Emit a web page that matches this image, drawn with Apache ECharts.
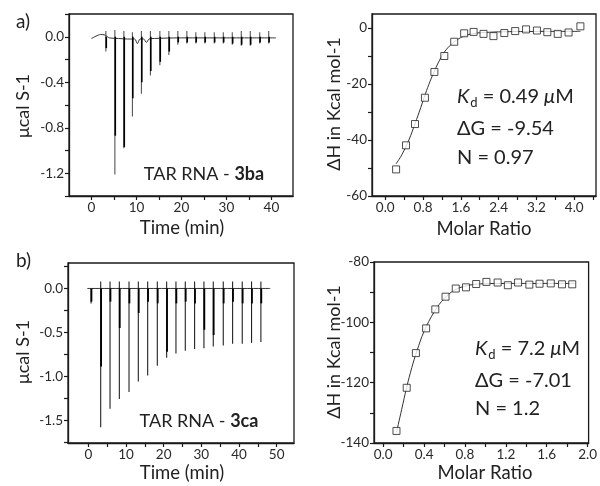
<!DOCTYPE html>
<html><head><meta charset="utf-8">
<script src="https://cdn.jsdelivr.net/npm/echarts@6/dist/echarts.min.js"></script>
<style>html,body{margin:0;padding:0;background:#fff}#c{width:600px;height:486px}</style>
</head><body><div id="c"></div>
<script>
// ---------- Panel a) raw thermogram, TAR RNA - 3ba ----------
const aTimes = [3.2, 5.2, 7.2, 9.1, 11.1, 13.1, 15.2, 17.2, 19.2, 21.2, 23.2, 25.2, 27.3, 29.3, 31.3, 33.3, 35.3, 37.4, 39.4];
const aUp    = [0.05, 0.06, 0.05, 0.04, 0.05, 0.05, 0.05, 0.05, 0.05, 0.05, 0.04, 0.04, 0.04, 0.04, 0.04, 0.05, 0.05, 0.04, 0.05];
const aPeak  = [-0.13, -1.21, -0.98, -0.70, -0.50, -0.34, -0.25, -0.16, -0.07, -0.06, -0.06, -0.06, -0.06, -0.06, -0.07, -0.08, -0.08, -0.06, -0.06];
const aThick = [-0.10, -0.87, -0.97, -0.54, -0.40, -0.30, -0.22, -0.13, -0.05, -0.05, -0.05, -0.05, -0.05, -0.05, -0.06, -0.07, -0.07, -0.05, -0.05];
const aBaseT = [0, 1, 2, 3, 4, 6, 8, 9.6, 10.2, 10.8, 11.6, 12.2, 12.8, 14, 20, 30, 41];
const aBaseV = [-0.015, 0.005, 0.02, 0.015, -0.01, -0.015, -0.02, -0.02, -0.06, -0.02, -0.02, -0.05, -0.02, -0.015, -0.01, -0.01, -0.01];
const aXLabels = [0, 10, 20, 30, 40];
const aXTicks  = [0, 5, 10, 15, 20, 25, 30, 35, 40];
const aYLabels = [0, -0.4, -0.8, -1.2];
const aYTicks  = [0.2, 0, -0.2, -0.4, -0.6, -0.8, -1.0, -1.2, -1.4];

// ---------- Panel b) binding isotherm, 3ba ----------
const bRatio = [0.23, 0.44, 0.63, 0.84, 1.04, 1.25, 1.46, 1.67, 1.87, 2.08, 2.29, 2.52, 2.75, 2.98, 3.21, 3.43, 3.65, 3.88, 4.13];
const bDH    = [-50.5, -41.9, -34.3, -24.9, -15.7, -10.0, -4.9, -1.9, -1.4, -2.1, -2.9, -1.8, -1.1, -0.5, -0.9, -1.5, -2.1, -1.6, 0.6];
const bFitX  = [0.23, 0.35, 0.5, 0.63, 0.75, 0.85, 0.95, 1.05, 1.15, 1.25, 1.4, 1.55, 1.7, 1.9, 2.1, 2.5, 3.0, 3.5, 4.13];
const bFitY  = [-48.5, -45.3, -40.0, -34.2, -28.5, -23.5, -19.0, -15.0, -11.5, -8.6, -5.8, -3.9, -2.7, -1.9, -1.6, -1.35, -1.25, -1.2, -1.2];
const bXLabels = [0, 0.8, 1.6, 2.4, 3.2, 4.0];
const bXTicks  = [0, 0.4, 0.8, 1.2, 1.6, 2.0, 2.4, 2.8, 3.2, 3.6, 4.0, 4.4];
const bYLabels = [0, -20, -40, -60];
const bYTicks  = [0, -10, -20, -30, -40, -50, -60];

// ---------- Panel c) raw thermogram, TAR RNA - 3ca ----------
const cTimes = [0.72, 3.28, 5.76, 8.23, 10.8, 13.27, 15.75, 18.31, 20.79, 23.26, 25.74, 28.21, 30.69, 33.17, 35.82, 38.3, 40.86, 43.33, 45.81];
const cUp    = [0.0, 0.08, 0.08, 0.08, 0.08, 0.08, 0.08, 0.08, 0.08, 0.08, 0.08, 0.08, 0.08, 0.08, 0.08, 0.08, 0.08, 0.08, 0.08];
const cPeak  = [-0.17, -1.58, -1.37, -1.26, -1.18, -1.06, -0.99, -0.88, -0.79, -0.74, -0.71, -0.69, -0.68, -0.66, -0.65, -0.63, -0.63, -0.62, -0.61];
const cThick = [-0.15, -0.89, -0.15, -0.45, -0.17, -0.28, -0.15, -0.17, -0.72, -0.17, -0.15, -0.17, -0.47, -0.53, -0.17, -0.15, -0.17, -0.17, -0.17];
const cBaseT = [-0.3, 48.3];
const cBaseV = [0.0, 0.0];
const cXLabels = [0, 10, 20, 30, 40, 50];
const cXTicks  = [0, 5, 10, 15, 20, 25, 30, 35, 40, 45, 50];
const cYLabels = [0, -0.5, -1.0, -1.5];
const cYTicks  = [0.25, 0, -0.25, -0.5, -0.75, -1.0, -1.25, -1.5, -1.75];

// ---------- Panel d) binding isotherm, 3ca ----------
const dRatio = [0.13, 0.23, 0.32, 0.42, 0.51, 0.61, 0.71, 0.81, 0.91, 1.01, 1.12, 1.22, 1.32, 1.43, 1.53, 1.64, 1.75, 1.85];
const dDH    = [-136.0, -121.7, -110.2, -102.0, -95.7, -91.5, -88.8, -88.4, -87.3, -86.6, -86.8, -87.7, -86.8, -87.5, -87.2, -87.1, -87.4, -87.4];
const dFitX  = [0.13, 0.18, 0.23, 0.28, 0.33, 0.40, 0.50, 0.60, 0.70, 0.80, 0.90, 1.0, 1.2, 1.5, 1.88];
const dFitY  = [-136.5, -129.0, -121.5, -115.0, -109.5, -103.0, -96.5, -92.0, -89.3, -88.0, -87.4, -87.2, -87.1, -87.1, -87.1];
const dXLabels = [0, 0.4, 0.8, 1.2, 1.6, 2.0];
const dXTicks  = [0, 0.2, 0.4, 0.6, 0.8, 1.0, 1.2, 1.4, 1.6, 1.8, 2.0];
const dYLabels = [-80, -100, -120, -140];
const dYTicks  = [-80, -90, -100, -110, -120, -130, -140];

const FONT = 'Lato';
const INK = '#1a1a1a';

function axis(gi, min, max, labels, ticks, fmt) {
  return {
    type: 'value', gridIndex: gi, min: min, max: max,
    splitLine: {show: false},
    axisLine: {show: true, onZero: false, lineStyle: {color: INK, width: 1.3}},
    axisTick: {show: true, inside: false, length: 4, customValues: ticks, lineStyle: {color: INK, width: 1.2}},
    axisLabel: {customValues: labels, formatter: fmt, color: '#2a2a2a', fontSize: 13.5, fontFamily: FONT, margin: 5}
  };
}
const f1 = v => (Math.abs(v) < 1e-9 ? 0 : v).toFixed(1);
const f0 = v => String(Math.round(v));

function spikes(gi, times, up, peak, thick, thinColor, thickW) {
  return {
    type: 'custom', xAxisIndex: gi, yAxisIndex: gi, clip: true, silent: true,
    data: times.map((t, i) => [t, up[i], peak[i], thick[i]]),
    encode: {x: 0, y: [1, 2, 3]},
    renderItem: (params, api) => {
      const t = api.value(0);
      const a = api.coord([t, api.value(1)]);
      const b = api.coord([t, api.value(2)]);
      const z = api.coord([t, 0]);
      const k = api.coord([t, api.value(3)]);
      return {type: 'group', children: [
        {type: 'line', shape: {x1: a[0], y1: a[1], x2: b[0], y2: b[1]}, style: {stroke: thinColor, lineWidth: 1.1}},
        {type: 'line', shape: {x1: z[0] + 0.4, y1: z[1], x2: k[0] + 0.4, y2: k[1]}, style: {stroke: '#000', lineWidth: thickW}}
      ]};
    }
  };
}
function baseline(gi, ts, vs) {
  return {type: 'line', xAxisIndex: gi, yAxisIndex: gi, data: ts.map((t, i) => [t, vs[i]]),
    showSymbol: false, smooth: 0.3, lineStyle: {color: '#333', width: 1}, silent: true, z: 1};
}
function fit(gi, xs, ys) {
  return {type: 'line', xAxisIndex: gi, yAxisIndex: gi, data: xs.map((x, i) => [x, ys[i]]),
    showSymbol: false, smooth: 0.4, lineStyle: {color: '#333', width: 1}, silent: true, z: 2};
}
function pts(gi, xs, ys) {
  return {type: 'scatter', xAxisIndex: gi, yAxisIndex: gi, data: xs.map((x, i) => [x, ys[i]]),
    symbol: 'rect', symbolSize: 7, itemStyle: {color: '#fff', borderColor: '#222', borderWidth: 1}, silent: true, z: 3};
}

const gridBase = {show: true, borderColor: INK, borderWidth: 1.3, backgroundColor: 'transparent'};
const T = (x, y, text, size, opts) => Object.assign({type: 'text', x: x, y: y, silent: true,
  style: Object.assign({text: text, fontSize: size, fontFamily: FONT, fill: '#222', align: 'center', verticalAlign: 'middle'}, (opts && opts.style) || {})},
  (opts && opts.el) || {});

const richK = (size) => ({
  k: {fontSize: size, fontFamily: FONT, fontStyle: 'italic', fill: '#222'},
  d: {fontSize: 13, fontFamily: FONT, fill: '#222', padding: [11, 0, 0, 1]},
  n: {fontSize: size, fontFamily: FONT, fill: '#222'},
  m: {fontSize: size, fontFamily: FONT, fontStyle: 'italic', fill: '#222'}
});

const option = {
  animation: false,
  backgroundColor: '#fff',
  grid: [
    Object.assign({left: 69, top: 14, width: 224, height: 182}, gridBase),
    Object.assign({left: 372, top: 14, width: 224, height: 182}, gridBase),
    Object.assign({left: 68, top: 263, width: 226, height: 180}, gridBase),
    Object.assign({left: 374, top: 262, width: 222, height: 181}, gridBase)
  ],
  xAxis: [
    axis(0, -5, 44.8, aXLabels, aXTicks, f0),
    axis(1, -0.28, 4.46, bXLabels, bXTicks, f1),
    axis(2, -5.4, 54.6, cXLabels, cXTicks, f0),
    axis(3, -0.09, 2.01, dXLabels, dXTicks, f1)
  ],
  yAxis: [
    axis(0, -1.4, 0.2, aYLabels, aYTicks, f1),
    axis(1, -60, 5, bYLabels, bYTicks, f0),
    axis(2, -1.76, 0.29, cYLabels, cYTicks, f1),
    axis(3, -140, -80, dYLabels, dYTicks, f0)
  ],
  series: [
    baseline(0, aBaseT, aBaseV), spikes(0, aTimes, aUp, aPeak, aThick, '#555', 1.6),
    fit(1, bFitX, bFitY), pts(1, bRatio, bDH),
    baseline(2, cBaseT, cBaseV), spikes(2, cTimes, cUp, cPeak, cThick, '#222', 1.8),
    fit(3, dFitX, dFitY), pts(3, dRatio, dDH)
  ],
  graphic: [
    T(16, 22, 'a)', 19, {style: {align: 'left'}}),
    T(16, 261, 'b)', 19, {style: {align: 'left'}}),
    T(23, 106, 'μcal S-1', 18, {el: {rotation: Math.PI / 2}}),
    T(23, 352, 'μcal S-1', 18, {el: {rotation: Math.PI / 2}}),
    T(182, 228, 'Time (min)', 18.5),
    T(182, 473, 'Time (min)', 18.5),
    T(334, 104, 'ΔH in Kcal mol-1', 18, {el: {rotation: Math.PI / 2}}),
    T(334, 352, 'ΔH in Kcal mol-1', 18, {el: {rotation: Math.PI / 2}}),
    T(484, 229, 'Molar Ratio', 18.5),
    T(485, 473, 'Molar Ratio', 18.5),
    T(204, 174, 'TAR RNA - {b|3ba}', 18, {style: {rich: {b: {fontSize: 18, fontFamily: FONT, fontWeight: 'bold', fill: '#222'}}}}),
    T(199, 421, 'TAR RNA - {b|3ca}', 18, {style: {rich: {b: {fontSize: 18, fontFamily: FONT, fontWeight: 'bold', fill: '#222'}}}}),
    T(457, 97, '{k|K}{d|d}{n| = 0.49 }{m|μ}{n|M}', 20, {style: {align: 'left', rich: richK(20)}}),
    T(457, 129, 'ΔG = -9.54', 20, {style: {align: 'left'}}),
    T(457, 158, 'N = 0.97', 20, {style: {align: 'left'}}),
    T(475, 349, '{k|K}{d|d}{n| = 7.2 }{m|μ}{n|M}', 20, {style: {align: 'left', rich: richK(20)}}),
    T(475, 381, 'ΔG = -7.01', 20, {style: {align: 'left'}}),
    T(475, 409, 'N = 1.2', 20, {style: {align: 'left'}})
  ]
};
const chart = echarts.init(document.getElementById('c'), null, {renderer: 'canvas'});
chart.setOption(option);
</script>
</body></html>
